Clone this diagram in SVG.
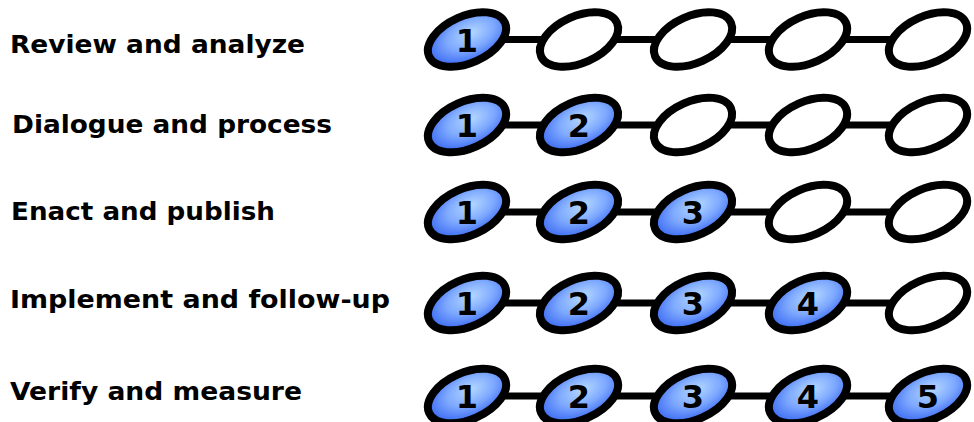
<svg xmlns="http://www.w3.org/2000/svg" width="974" height="422" viewBox="0 0 974 422">
<defs>
<radialGradient id="blue" cx="0.55" cy="0.45" r="0.6" fx="0.58" fy="0.4">
<stop offset="0" stop-color="#b4d8ff"/>
<stop offset="0.5" stop-color="#7ea9ff"/>
<stop offset="1" stop-color="#2e5ef0"/>
</radialGradient>
<ellipse id="e" rx="41.5" ry="23.5" transform="rotate(-24)"/>
</defs>
<style>
.lbl{font-family:"DejaVu Sans","Liberation Sans",sans-serif;font-weight:bold;font-size:25px;fill:#000}
.num{font-family:"DejaVu Sans","Liberation Sans",sans-serif;font-weight:bold;font-size:32px;fill:#000;text-anchor:middle}
.on{fill:url(#blue);stroke:#000;stroke-width:8}
.off{fill:#fff;stroke:#000;stroke-width:8}
.con{stroke:#000;stroke-width:7;fill:none}
</style>
<g id="labels">
<text class="lbl" x="10" y="53" textLength="295" lengthAdjust="spacingAndGlyphs">Review and analyze</text>
<text class="lbl" x="12" y="133" textLength="320" lengthAdjust="spacingAndGlyphs">Dialogue and process</text>
<text class="lbl" x="11" y="220" textLength="264" lengthAdjust="spacingAndGlyphs">Enact and publish</text>
<text class="lbl" x="10" y="308" textLength="380" lengthAdjust="spacingAndGlyphs">Implement and follow-up</text>
<text class="lbl" x="10" y="400" textLength="292" lengthAdjust="spacingAndGlyphs">Verify and measure</text>
</g>
<g id="connectors">
<path class="con" d="M467 39.5H928M467 125H928M467 212H928M467 303H928M467 396H928"/>
</g>
<g id="row1">
<g id="r1n1"><use href="#e" class="on" x="467" y="39.5"/><text class="num" x="467" y="51.5">1</text></g>
<g id="r1n2"><use href="#e" class="off" x="579" y="39.5"/></g>
<g id="r1n3"><use href="#e" class="off" x="693" y="39.5"/></g>
<g id="r1n4"><use href="#e" class="off" x="808" y="39.5"/></g>
<g id="r1n5"><use href="#e" class="off" x="928" y="39.5"/></g>
</g>
<g id="row2">
<g id="r2n1"><use href="#e" class="on" x="467" y="125"/><text class="num" x="467" y="137">1</text></g>
<g id="r2n2"><use href="#e" class="on" x="579" y="125"/><text class="num" x="579" y="137">2</text></g>
<g id="r2n3"><use href="#e" class="off" x="693" y="125"/></g>
<g id="r2n4"><use href="#e" class="off" x="808" y="125"/></g>
<g id="r2n5"><use href="#e" class="off" x="928" y="125"/></g>
</g>
<g id="row3">
<g id="r3n1"><use href="#e" class="on" x="467" y="212"/><text class="num" x="467" y="224">1</text></g>
<g id="r3n2"><use href="#e" class="on" x="579" y="212"/><text class="num" x="579" y="224">2</text></g>
<g id="r3n3"><use href="#e" class="on" x="693" y="212"/><text class="num" x="693" y="224">3</text></g>
<g id="r3n4"><use href="#e" class="off" x="808" y="212"/></g>
<g id="r3n5"><use href="#e" class="off" x="928" y="212"/></g>
</g>
<g id="row4">
<g id="r4n1"><use href="#e" class="on" x="467" y="303"/><text class="num" x="467" y="315">1</text></g>
<g id="r4n2"><use href="#e" class="on" x="579" y="303"/><text class="num" x="579" y="315">2</text></g>
<g id="r4n3"><use href="#e" class="on" x="693" y="303"/><text class="num" x="693" y="315">3</text></g>
<g id="r4n4"><use href="#e" class="on" x="808" y="303"/><text class="num" x="808" y="315">4</text></g>
<g id="r4n5"><use href="#e" class="off" x="928" y="303"/></g>
</g>
<g id="row5">
<g id="r5n1"><use href="#e" class="on" x="467" y="396"/><text class="num" x="467" y="408">1</text></g>
<g id="r5n2"><use href="#e" class="on" x="579" y="396"/><text class="num" x="579" y="408">2</text></g>
<g id="r5n3"><use href="#e" class="on" x="693" y="396"/><text class="num" x="693" y="408">3</text></g>
<g id="r5n4"><use href="#e" class="on" x="808" y="396"/><text class="num" x="808" y="408">4</text></g>
<g id="r5n5"><use href="#e" class="on" x="928" y="396"/><text class="num" x="928" y="408">5</text></g>
</g>
</svg>
